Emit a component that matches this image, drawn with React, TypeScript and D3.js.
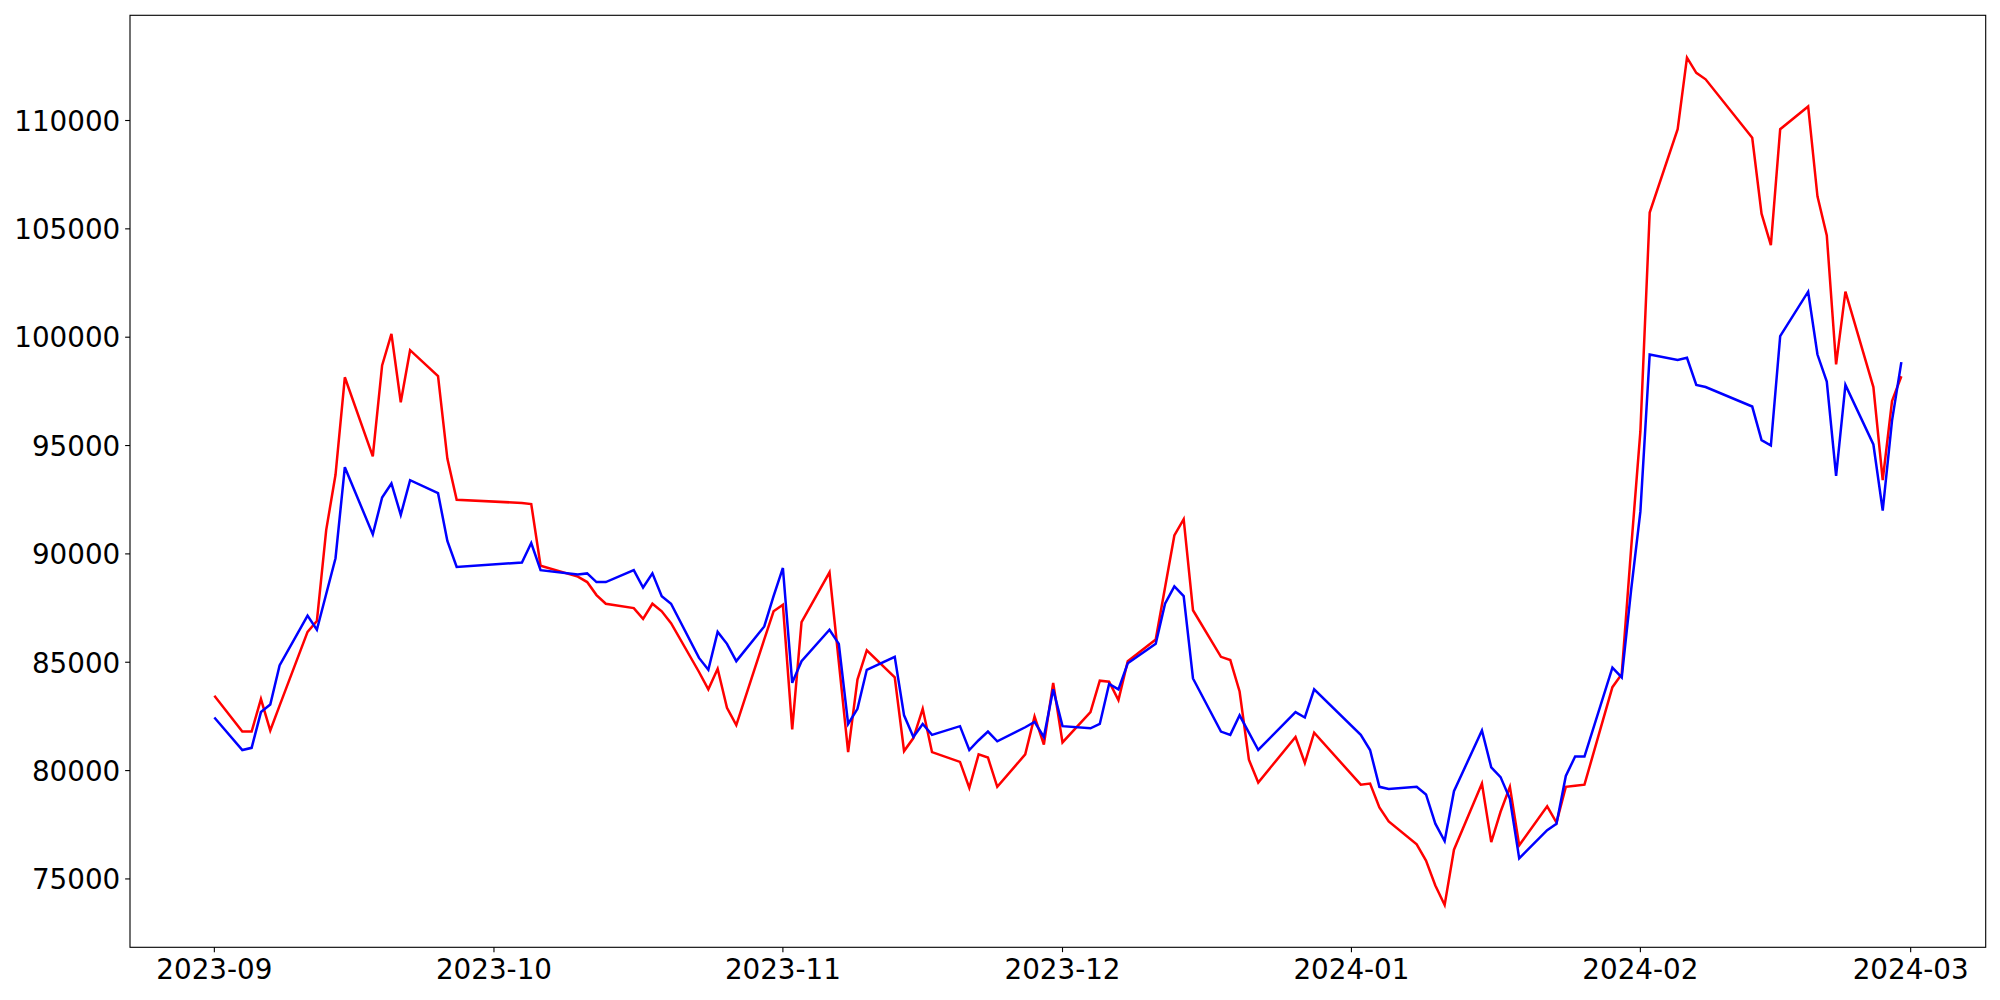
import React from "react";
import * as d3 from "d3";

const dates: string[] = [
  "2023-09-01","2023-09-04","2023-09-05","2023-09-06","2023-09-07","2023-09-08",
  "2023-09-11","2023-09-12","2023-09-13","2023-09-14","2023-09-15",
  "2023-09-18","2023-09-19","2023-09-20","2023-09-21","2023-09-22",
  "2023-09-25","2023-09-26","2023-09-27",
  "2023-10-04","2023-10-05","2023-10-06",
  "2023-10-10","2023-10-11","2023-10-12","2023-10-13",
  "2023-10-16","2023-10-17","2023-10-18","2023-10-19","2023-10-20",
  "2023-10-23","2023-10-24","2023-10-25","2023-10-26","2023-10-27",
  "2023-10-30","2023-10-31",
  "2023-11-01","2023-11-02","2023-11-03",
  "2023-11-06","2023-11-07","2023-11-08","2023-11-09","2023-11-10",
  "2023-11-13","2023-11-14","2023-11-15","2023-11-16","2023-11-17",
  "2023-11-20","2023-11-21","2023-11-22","2023-11-23","2023-11-24",
  "2023-11-27","2023-11-28","2023-11-29","2023-11-30",
  "2023-12-01",
  "2023-12-04","2023-12-05","2023-12-06","2023-12-07","2023-12-08",
  "2023-12-11","2023-12-12","2023-12-13","2023-12-14","2023-12-15",
  "2023-12-18","2023-12-19","2023-12-20","2023-12-21","2023-12-22",
  "2023-12-26","2023-12-27","2023-12-28",
  "2024-01-02","2024-01-03","2024-01-04","2024-01-05",
  "2024-01-08","2024-01-09","2024-01-10","2024-01-11","2024-01-12",
  "2024-01-15","2024-01-16","2024-01-17","2024-01-18","2024-01-19",
  "2024-01-22","2024-01-23","2024-01-24","2024-01-25","2024-01-26",
  "2024-01-29","2024-01-30","2024-01-31",
  "2024-02-01","2024-02-02",
  "2024-02-05","2024-02-06","2024-02-07","2024-02-08",
  "2024-02-13","2024-02-14","2024-02-15","2024-02-16",
  "2024-02-19","2024-02-20","2024-02-21","2024-02-22","2024-02-23",
  "2024-02-26","2024-02-27","2024-02-28","2024-02-29",
];

const redValues: number[] = [
  83450, 81800, 81800, 83300, 81850, 83000,
  86400, 86900, 91100, 93650, 98150,
  94500, 98700, 100150, 97000, 99400,
  98200, 94400, 92500,
  92350, 92300, 89450,
  88950, 88700, 88100, 87700,
  87500, 87000, 87700, 87350, 86800,
  84550, 83750, 84700, 82900, 82100,
  86050, 87350,
  87650, 81900, 86850,
  89150, 85000, 80850, 84200, 85550,
  84300, 80900, 81500, 82850, 80850,
  80400, 79200, 80750, 80600, 79250,
  80750, 82500, 81200, 84050,
  81300,
  82700, 84150, 84100, 83250, 85050,
  86050, 88450, 90850, 91600, 87400,
  85250, 85100, 83650, 80500, 79450,
  81550, 80350, 81750,
  79350, 79400, 78300, 77650,
  76600, 75850, 74700, 73800, 76350,
  79400, 76700, 78100, 79250, 76550,
  78350, 77600, 79250, 79300, 79350,
  83850, 84450, 90200,
  95650, 105750,
  109600, 112900, 112200, 111900,
  109200, 105700, 104250, 109600,
  110650, 106500, 104700, 98750, 102100,
  97700, 93400, 97050, 98200,
];

const blueValues: number[] = [
  82450, 80950, 81050, 82700, 83050, 84850,
  87150, 86500, 88150, 89800, 94000,
  90900, 92600, 93250, 91800, 93400,
  92800, 90600, 89400,
  89600, 90500, 89250,
  89050, 89100, 88700, 88700,
  89250, 88450, 89100, 88050, 87700,
  85200, 84650, 86400, 85850, 85050,
  86650, 88050,
  89350, 84050, 85050,
  86500, 85850, 82150, 82850, 84650,
  85250, 82550, 81550, 82150, 81650,
  82050, 80950, 81400, 81800, 81350,
  82000, 82250, 81550, 83750,
  82050,
  81950, 82150, 84000, 83750, 84950,
  85850, 87700, 88500, 88050, 84250,
  81800, 81650, 82550, 81750, 80950,
  82700, 82450, 83750,
  81650, 80950, 79250, 79150,
  79250, 78900, 77550, 76750, 79050,
  81850, 80150, 79700, 78700, 75950,
  77250, 77550, 79750, 80650, 80650,
  84750, 84300, 88300,
  91950, 99200,
  98950, 99050, 97800, 97700,
  96800, 95250, 95000, 100050,
  102100, 99200, 97950, 93600, 97800,
  95050, 92000, 96150, 98850,
];

const yTickValues: number[] = [75000, 80000, 85000, 90000, 95000, 100000, 105000, 110000];
const xTickLabels: string[] = ["2023-09", "2023-10", "2023-11", "2023-12", "2024-01", "2024-02", "2024-03"];

const seriesList = [
  { name: "red", color: "#ff0000", values: redValues },
  { name: "blue", color: "#0000ff", values: blueValues },
];

const W = 2000;
const H = 1000;
const plot = { left: 130, right: 1985.7, top: 15.3, bottom: 947.3 };
const FONT = "'DejaVu Sans', sans-serif";
const FS = 27.78;
const TICK = 4.86;
const PAD = 4.86;

export default function App() {
  const parse = d3.timeParse("%Y-%m-%d");
  const parsed = dates.map((s) => parse(s) as Date);
  const t0 = parsed[0].getTime();
  const t1 = parsed[parsed.length - 1].getTime();
  const tSpan = t1 - t0;
  const x = d3
    .scaleTime()
    .domain([new Date(t0 - 0.05 * tSpan), new Date(t1 + 0.05 * tSpan)])
    .range([plot.left, plot.right]);

  const all = [...redValues, ...blueValues];
  const vMin = d3.min(all) as number;
  const vMax = d3.max(all) as number;
  const vSpan = vMax - vMin;
  const y = d3
    .scaleLinear()
    .domain([vMin - 0.05 * vSpan, vMax + 0.05 * vSpan])
    .range([plot.bottom, plot.top]);

  const parseMonth = d3.timeParse("%Y-%m");
  const xTicks = xTickLabels.map((l) => ({ label: l, date: parseMonth(l) as Date }));

  const line = d3
    .line<number>()
    .x((_, i) => x(parsed[i]))
    .y((v) => y(v));

  return (
    <div style={{ position: "absolute", left: 0, top: 0 }}>
      <svg width={W} height={H} style={{ display: "block", background: "#fff" }}>
        <rect x={0} y={0} width={W} height={H} fill="#ffffff" />
        <defs>
          <clipPath id="plotclip">
            <rect x={plot.left} y={plot.top} width={plot.right - plot.left} height={plot.bottom - plot.top} />
          </clipPath>
        </defs>
        <g clipPath="url(#plotclip)">
          {seriesList.map((s) => (
            <path
              key={s.name}
              d={line(s.values) || ""}
              fill="none"
              stroke={s.color}
              strokeWidth={2.5}
              strokeLinejoin="miter"
              strokeLinecap="butt"
            />
          ))}
        </g>
        <rect
          x={plot.left}
          y={plot.top}
          width={plot.right - plot.left}
          height={plot.bottom - plot.top}
          fill="none"
          stroke="#000"
          strokeWidth={1.11}
        />
        {yTickValues.map((v) => (
          <g key={v}>
            <line x1={plot.left - TICK} x2={plot.left} y1={y(v)} y2={y(v)} stroke="#000" strokeWidth={1.11} />
            <text
              x={plot.left - TICK - PAD}
              y={y(v) + 10.3}
              textAnchor="end"
              fontFamily={FONT}
              fontSize={FS}
              fill="#000"
            >
              {String(v)}
            </text>
          </g>
        ))}
        {xTicks.map((t) => (
          <g key={t.label}>
            <line x1={x(t.date)} x2={x(t.date)} y1={plot.bottom} y2={plot.bottom + TICK} stroke="#000" strokeWidth={1.11} />
            <text
              x={x(t.date)}
              y={plot.bottom + TICK + PAD + 22}
              textAnchor="middle"
              fontFamily={FONT}
              fontSize={FS}
              fill="#000"
            >
              {t.label}
            </text>
          </g>
        ))}
      </svg>
    </div>
  );
}
